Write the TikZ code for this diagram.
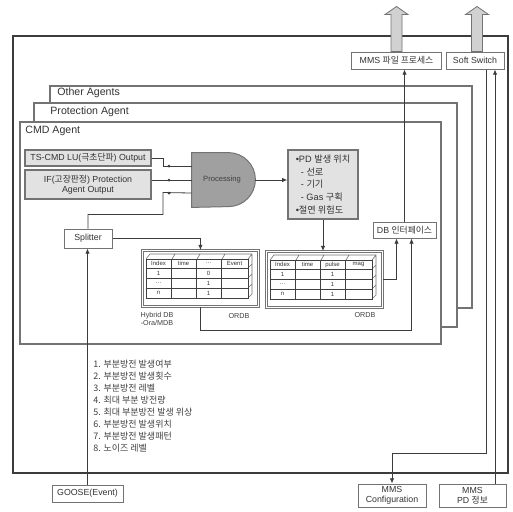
\documentclass[tikz,border=0pt]{standalone}
\usepackage{fontspec}
\setmainfont{Liberation Sans}
\newfontfamily\kr{Noto Sans CJK KR}
\usetikzlibrary{arrows.meta, positioning}
\definecolor{CMDline}{RGB}{60,60,60}
\definecolor{CMDedge}{RGB}{115,115,115}
\definecolor{CMDfill}{RGB}{226,226,226}
\definecolor{CMDgate}{RGB}{160,160,160}

\begin{document}
\begin{tikzpicture}[x=0.5pt, y=-0.5pt,
                panel/.style={draw=CMDedge, line width=0.8pt, fill=white},
                box/.style={rectangle,
                draw=CMDedge,
                line width=0.5pt,
                fill=white,
                inner sep=0.5pt,
                text=black!80,
                font=\fontsize{4.4}{5.2}\selectfont,
                align=center},
                inbox/.style={box, fill=CMDfill, line width=0.7pt},
                lbl/.style={anchor=west, inner sep=0pt, text=black!80,
                            font=\fontsize{5.3}{6}\selectfont},
                small/.style={inner sep=0pt, text=black!75, align=center,
                              font=\fontsize{3.6}{4.2}\selectfont},
                cell/.style={inner sep=0pt, text=black!80,
                             font=\fontsize{3}{3.4}\selectfont},
                arr/.style={-{Latex[length=2.6pt, width=2.2pt]}, CMDline, line width=0.4pt},
                ln/.style={CMDline, line width=0.4pt},
                hollow/.style={draw=CMDedge, fill=black!18, line width=0.4pt},
                pics/dbtab/.style n args={3}{code={
                    \node[draw=CMDedge, double, double distance=0.5pt,
                          minimum width=58pt, minimum height=28pt,
                          anchor=north west, inner sep=0pt] (-box) at (0,0) {};
                    \draw[CMDedge, line width=0.3pt] (4,9) -- (8,4) -- (110,4) -- (110,44) -- (106,48)
                        (106,9) -- (110,4) (106,18) -- (110,14) (106,28) -- (110,24) (106,38) -- (110,34)
                        (30,9) -- (33,4) (55,9) -- (58,4) (80,9) -- (83,4);
                    \draw[black!75, line width=0.5pt] (4,9) rectangle (106,48)
                        (4,18) -- (106,18) (4,28) -- (106,28) (4,38) -- (106,38)
                        (29,9) -- (29,48) (54,9) -- (54,48) (79,9) -- (79,48);
                    \foreach \cx/\ct [count=\i] in {16.5/Index, 41.5/time, 66.5/#1, 92.5/#2}
                        \node[cell] (-h\i) at (\cx,13.5) {\ct};
                    \foreach \ry/\rt/\rv [count=\i] in {23/1/#3, 33/\ldots/1, 43/n/1}
                        {\node[cell] (-a\i) at (16.5,\ry) {\rt};
                         \node[cell] (-c\i) at (66.5,\ry) {\rv};}
                }}]
                \useasboundingbox (0,0) rectangle (513,511);
                % frame and agent panels
                \draw[CMDline, line width=0.6pt] (13,36) rectangle (508,473);
                \draw[panel] (50,86) rectangle (472,308);
                \draw[panel] (34,103) rectangle (457,327);
                \draw[panel] (20,122) rectangle (441,344);
                \node[lbl] (othlbl) at (57,93) {Other Agents};
                \node[lbl] (prolbl) at (50,112) {Protection Agent};
                \node[lbl] (cmdlbl) at (25,131) {CMD Agent};
                % CMD agent contents
                \node[inbox, minimum width=63pt, minimum height=8pt] (tscmd) at (88,158)
                    {TS-CMD LU({\kr 극초단파}) Output};
                \node[inbox, minimum width=63pt, minimum height=14.5pt] (ifbox) at (88,184.5)
                    {IF({\kr 고장판정}) Protection\\Agent Output};
                \node[minimum width=31.5pt, minimum height=27pt, inner sep=0pt] (proc) at (223.5,180) {};
                \fill[CMDgate, draw=CMDedge, line width=0.5pt] (proc.south west) -- (proc.north west)
                    -- ([xshift=-13.5pt]proc.north east) arc[start angle=90, end angle=-90, radius=13.5pt] -- cycle;
                \node[small, font=\fontsize{3.8}{4.4}\selectfont] (proctxt) at (222,180) {Processing};
                \node[box, minimum width=24pt, minimum height=9.5pt] (split) at (88,238.5) {Splitter};
                \node[inbox, align=left, minimum width=35pt, minimum height=34.5pt,
                      font=\fontsize{4.6}{6.4}\selectfont] (pd) at (323,184.5)
                    {\textbullet PD {\kr 발생 위치}\\
                     \ \ - {\kr 선로}\\
                     \ \ - {\kr 기기}\\
                     \ \ - Gas {\kr 구획}\\
                     \textbullet{\kr 절연 위험도}};
                \node[box, minimum width=31.5pt, minimum height=8pt] (db) at (404.5,230)
                    {DB {\kr 인터페이스}};
                \pic (hyb) at (142,250) {dbtab={\ldots}{Event}{0}};
                \pic (ord) at (266,251) {dbtab={pulse}{mag}{1}};
                \node[small] (hyblbl) at (157,319) {Hybrid DB\\-Ora/MDB};
                \node[small] (ordlbl1) at (239,316) {ORDB};
                \node[small] (ordlbl2) at (365,315) {ORDB};
                % outside boxes
                \node[box, minimum width=45pt, minimum height=8.5pt] (mms) at (396.5,60.5)
                    {MMS {\kr 파일 프로세스}};
                \node[box, minimum width=29pt, minimum height=8.5pt] (soft) at (475,60.5) {Soft Switch};
                \node[box, minimum width=34pt, minimum height=11.5pt] (config) at (392,495.5)
                    {MMS\\Configuration};
                \node[box, minimum width=33.5pt, minimum height=11.5pt] (pdinfo) at (472.5,495.5)
                    {MMS\\PD {\kr 정보}};
                \node[box, minimum width=35.5pt, minimum height=8.5pt] (goose) at (87.5,493.5)
                    {GOOSE(Event)};
                \node[anchor=north west, align=left, inner sep=0pt, text=black!75,
                      font=\fontsize{4.5}{5.95}\selectfont\kr] (pdlist) at (93,360)
                    {1. 부분방전 발생여부\\
                     2. 부분방전 발생횟수\\
                     3. 부분방전 레벨\\
                     4. 최대 부분 방전량\\
                     5. 최대 부분방전 발생 위상\\
                     6. 부분방전 발생위치\\
                     7. 부분방전 발생패턴\\
                     8. 노이즈 레벨};
                % hollow output arrows
                \draw[hollow] ([xshift=-2.75pt]mms.north) -- ++(0,-37) -- ++(-6,0) -- ++(11.5,-8)
                    -- ++(11.5,8) -- ++(-6,0) -- ++(0,37) -- cycle;
                \draw[hollow] ([xshift=-1.75pt]soft.north) -- ++(0,-37) -- ++(-6,0) -- ++(11.5,-8)
                    -- ++(11.5,8) -- ++(-6,0) -- ++(0,37) -- cycle;
                % connectors
                \draw[ln] (tscmd.east) -- ++(12,0) |- ([yshift=7pt]proc.west);
                \draw[ln] (ifbox.east |- proc.west) -- (proc.west);
                \draw[ln] (split.north) -- ++(0,-14) -| ++(75,-22) -- ([yshift=-6.5pt]proc.west);
                \fill[CMDline] (169,166) circle (1.5) (169,180) circle (1.5) (169,193) circle (1.5);
                \draw[arr] (proc.east) -- (proc.east -| pd.west);
                \draw[arr] (pd.south) -- (pd.south |- ord-box.north);
                \draw[arr] (split.east) -| (hyb-box.north);
                \draw[arr] (goose.north) -- (goose.north |- split.south);
                \draw[arr] (ord-box.east) -- ++(14,0) -| ([xshift=-4pt]db.south);
                \draw[arr] (hyb-box.south) -- ++(0,24) -| ([xshift=3.5pt]db.south);
                \draw[arr] (db.north) -- (db.north |- mms.south);
                \draw[arr] ([xshift=5.5pt]soft.south) -- ++(0,384) -| (config.north);
                \draw[arr] ([xshift=11.25pt]pdinfo.north) -- ([xshift=10pt]soft.south);
            \end{tikzpicture}
\end{document}
